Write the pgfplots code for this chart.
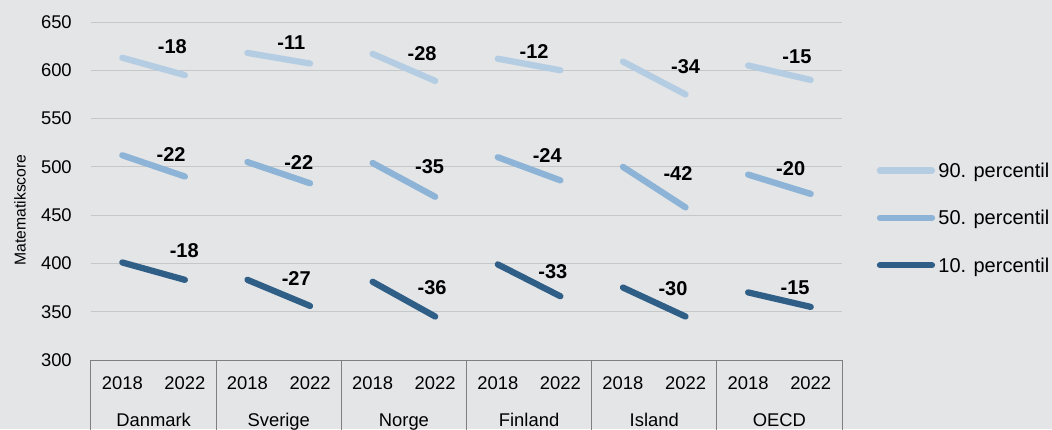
\documentclass[border=0pt]{standalone}
\usepackage{fontspec}
\setmainfont{Liberation Sans}
\usepackage{pgfplots}
\pgfplotsset{compat=1.18}
\usepackage{pgfplotstable}
\definecolor{bg}{RGB}{228,229,231}
\definecolor{gridc}{RGB}{198,199,201}
\definecolor{axc}{RGB}{128,128,128}
\definecolor{cninety}{RGB}{180,205,227}
\definecolor{cfifty}{RGB}{141,180,214}
\definecolor{cten}{RGB}{47,95,135}
\newcommand\tickfont{\fontsize{13.8}{16}\selectfont}

\pgfplotstableread{
x y
0 613
1 595
1.5 nan
2 618
3 607
3.5 nan
4 617
5 589
5.5 nan
6 612
7 600
7.5 nan
8 609
9 575
9.5 nan
10 605
11 590
}\pninety
\pgfplotstableread{
x y
0 512
1 490
1.5 nan
2 505
3 483
3.5 nan
4 504
5 469
5.5 nan
6 510
7 486
7.5 nan
8 500
9 458
9.5 nan
10 492
11 472
}\pfifty
\pgfplotstableread{
x y
0 401
1 383
1.5 nan
2 383
3 356
3.5 nan
4 381
5 345
5.5 nan
6 399
7 366
7.5 nan
8 375
9 345
9.5 nan
10 370
11 355
}\pten
\pgfplotstableread{
x y label
0.80 624 -18
2.70 629 -11
4.79 617 -28
6.58 619 -12
9.00 604 -34
10.78 614 -15
0.78 513 -22
2.82 505 -22
4.91 500 -35
6.79 512 -24
8.88 493 -42
10.68 498 -20
0.99 413 -18
2.78 384 -27
4.95 375 -36
6.88 391 -33
8.80 374 -30
10.75 375 -15
}\plabels

\begin{document}
\begin{tikzpicture}
\fill[bg] (-68.25pt,-51.75pt) rectangle (720.75pt,270pt);
\useasboundingbox (-68.25pt,-51.75pt) rectangle (720.75pt,270pt);
\begin{axis}[
  at={(0,0)}, anchor=south west,
  scale only axis, width=563.25pt, height=253.5pt,
  xmin=-0.5, xmax=11.5, ymin=300, ymax=650,
  ytick={300,350,...,650},
  xtick={0,...,11},
  xticklabels={2018,2022,2018,2022,2018,2022,2018,2022,2018,2022,2018,2022},
  axis x line*=bottom, axis y line*=left,
  x axis line style={draw=axc, line width=0.75pt, -},
  y axis line style={draw=none},
  tick style={draw=none}, major tick length=0pt,
  ymajorgrids, grid style={draw=gridc, line width=0.75pt},
  yticklabel style={font=\tickfont, anchor=east, inner sep=0pt, xshift=-14.25pt},
  xticklabel style={font=\tickfont, anchor=north, inner sep=0pt, yshift=-12.5pt},
  /pgf/number format/assume math mode=true,
  ylabel={Matematikscore},
  ylabel style={font=\fontsize{11.8}{13}\selectfont, at={(axis description cs:-0.0945,0.444)}, anchor=center},
  clip=false,
  unbounded coords=jump,
  legend style={draw=none, fill=none, at={(axis description cs:1.046,0.582)}, anchor=north west,
    inner sep=0pt, row sep=25pt,
    nodes={inner sep=0pt, text height=10.5pt, text depth=0pt, font=\fontsize{15}{17}\selectfont},
    /tikz/every odd column/.append style={column sep=2.5pt},
    cells={anchor=west}},
  legend image code/.code={\draw[#1] (0pt,0pt) -- (39pt,0pt);},
]
\addplot[cninety, line width=4.7pt, line cap=round, mark=none] table[x=x,y=y] {\pninety};
\addlegendentry{90. percentil}
\addplot[cfifty, line width=4.7pt, line cap=round, mark=none] table[x=x,y=y] {\pfifty};
\addlegendentry{50. percentil}
\addplot[cten, line width=4.7pt, line cap=round, mark=none] table[x=x,y=y] {\pten};
\addlegendentry{10. percentil}
\addplot[forget plot, only marks, mark=none, point meta=explicit symbolic,
  nodes near coords,
  every node near coord/.append style={anchor=center, inner sep=0pt, text=black, font=\fontsize{15}{17}\selectfont\bfseries}]
  table[x=x,y=y,meta=label] {\plabels};
\pgfplotsinvokeforeach{-0.5,1.5,3.5,5.5,7.5,9.5,11.5}{
  \draw[axc, line width=0.75pt] (axis cs:#1,300) -- ++(0pt,-60pt);
}
\node[anchor=north, inner sep=0pt, font=\tickfont] at ([yshift=-40pt]axis cs:0.5,300) {Danmark};
\node[anchor=north, inner sep=0pt, font=\tickfont] at ([yshift=-40pt]axis cs:2.5,300) {Sverige};
\node[anchor=north, inner sep=0pt, font=\tickfont] at ([yshift=-40pt]axis cs:4.5,300) {Norge};
\node[anchor=north, inner sep=0pt, font=\tickfont] at ([yshift=-40pt]axis cs:6.5,300) {Finland};
\node[anchor=north, inner sep=0pt, font=\tickfont] at ([yshift=-40pt]axis cs:8.5,300) {Island};
\node[anchor=north, inner sep=0pt, font=\tickfont] at ([yshift=-40pt]axis cs:10.5,300) {OECD};
\end{axis}
\end{tikzpicture}
\end{document}
